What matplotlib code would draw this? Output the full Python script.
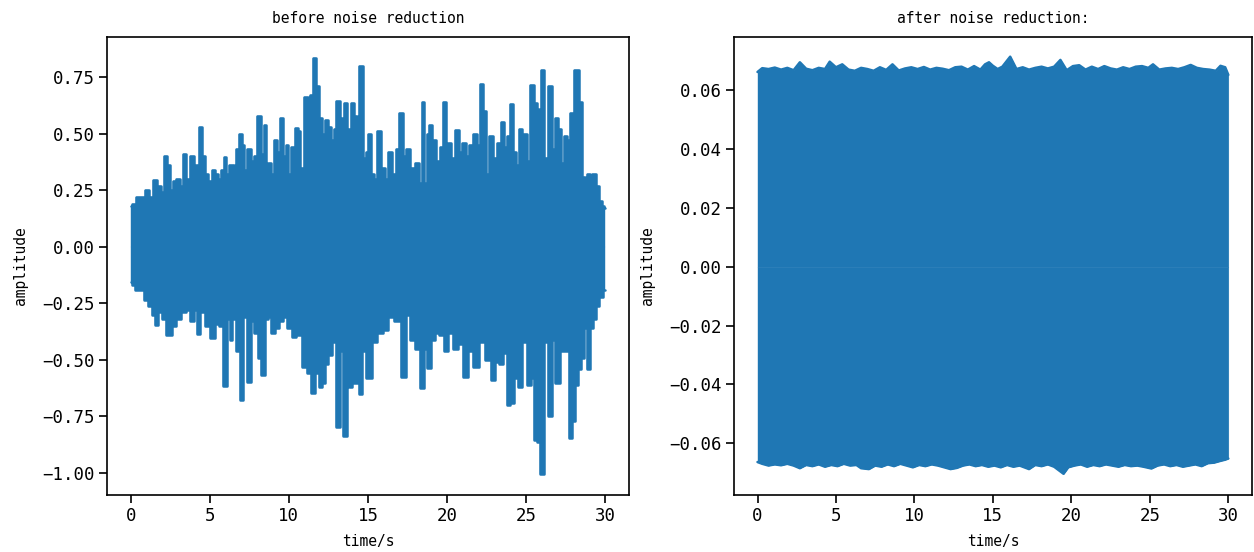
import numpy as np
import matplotlib
matplotlib.use("Agg")
import matplotlib.pyplot as plt

# ---------------- data ----------------
# before noise reduction: upper envelope spikes
before_up_t = [0.0, 0.2, 0.5, 0.8, 1.05, 1.3, 1.58, 1.8, 2.0, 2.2, 2.4, 2.55, 2.74, 2.98, 3.2, 3.43, 3.6,
               3.9, 4.05, 4.2, 4.42, 4.6, 4.8, 5.0, 5.22, 5.45, 5.65, 5.8, 5.94, 6.1, 6.3, 6.5, 6.6, 6.75,
               6.95, 7.1, 7.25, 7.47, 7.7, 7.85, 8.13, 8.3, 8.5, 8.6, 8.8, 8.95, 9.16, 9.33, 9.58, 9.7,
               9.9, 10.05, 10.25, 10.47, 10.65, 10.8, 11.1, 11.27, 11.4, 11.6, 11.8, 12.0, 12.15, 12.4,
               12.6, 12.75, 12.9, 13.1, 13.3, 13.4, 13.56, 13.73, 13.85, 14.0, 14.2, 14.35, 14.55, 14.8,
               14.9, 15.1, 15.3, 15.45, 15.7, 15.96, 16.2, 16.38, 16.64, 16.85, 17.1, 17.3, 17.5, 17.8,
               18.1, 18.3, 18.47, 18.6, 18.8, 18.9, 19.15, 19.47, 19.68, 19.86, 20.0, 20.17, 20.35,
               20.64, 20.85, 21.06, 21.27, 21.48, 21.8, 21.95, 22.15, 22.33, 22.54, 22.8, 23.0, 23.28,
               23.52, 23.7, 23.86, 24.07, 24.26, 24.43, 24.6, 24.9, 25.17, 25.37, 25.58, 25.75, 25.9,
               26.03, 26.2, 26.53, 26.74, 26.95, 27.1, 27.25, 27.5, 27.7, 27.9, 28.2, 28.46, 28.65,
               28.8, 28.95, 29.1, 29.27, 29.5, 29.66, 29.9, 30.0]
before_up_v = [0.18, 0.19, 0.22, 0.22, 0.25, 0.22, 0.295, 0.27, 0.24, 0.40, 0.36, 0.25, 0.29, 0.30, 0.27,
               0.41, 0.30, 0.40, 0.25, 0.36, 0.53, 0.40, 0.32, 0.29, 0.34, 0.32, 0.30, 0.34, 0.395, 0.32,
               0.36, 0.36, 0.34, 0.43, 0.50, 0.45, 0.34, 0.43, 0.38, 0.40, 0.58, 0.41, 0.54, 0.35, 0.37,
               0.32, 0.47, 0.42, 0.57, 0.40, 0.45, 0.32, 0.44, 0.525, 0.51, 0.35, 0.66, 0.62, 0.67, 0.835,
               0.71, 0.57, 0.50, 0.56, 0.53, 0.47, 0.52, 0.645, 0.53, 0.57, 0.635, 0.51, 0.52, 0.635,
               0.58, 0.50, 0.80, 0.39, 0.42, 0.50, 0.32, 0.30, 0.51, 0.35, 0.30, 0.42, 0.32, 0.43, 0.59,
               0.40, 0.43, 0.35, 0.37, 0.28, 0.64, 0.28, 0.50, 0.54, 0.47, 0.38, 0.44, 0.64, 0.31, 0.46,
               0.39, 0.515, 0.42, 0.46, 0.40, 0.45, 0.50, 0.45, 0.72, 0.60, 0.32, 0.49, 0.39, 0.46, 0.55,
               0.44, 0.49, 0.63, 0.42, 0.36, 0.52, 0.50, 0.38, 0.715, 0.635, 0.61, 0.515, 0.78, 0.39,
               0.71, 0.43, 0.57, 0.52, 0.37, 0.49, 0.47, 0.59, 0.78, 0.64, 0.31, 0.26, 0.32, 0.30, 0.32,
               0.27, 0.20, 0.18, 0.17]

# before noise reduction: lower envelope spikes
before_lo_t = [0.0, 0.2, 0.4, 0.7, 0.95, 1.26, 1.47, 1.64, 1.85, 2.1, 2.42, 2.74, 3.05, 3.37, 3.6, 3.9,
               4.1, 4.27, 4.5, 4.85, 5.22, 5.47, 5.7, 5.96, 6.2, 6.3, 6.5, 6.8, 7.05, 7.2, 7.5, 7.7, 7.9,
               8.15, 8.38, 8.6, 8.8, 9.0, 9.3, 9.5, 9.75, 10.0, 10.35, 10.6, 11.0, 11.26, 11.53, 11.8,
               12.0, 12.15, 12.4, 12.6, 12.85, 13.1, 13.3, 13.54, 13.75, 13.9, 14.1, 14.3, 14.53, 14.75,
               15.0, 15.2, 15.37, 15.75, 16.1, 16.4, 16.85, 17.27, 17.5, 17.8, 18.1, 18.45, 18.6, 18.85,
               19.1, 19.37, 19.65, 19.94, 20.2, 20.5, 20.85, 21.2, 21.47, 21.85, 22.2, 22.6, 22.93,
               23.15, 23.4, 23.65, 23.9, 24.1, 24.4, 24.6, 24.9, 25.23, 25.4, 25.58, 25.8, 26.0, 26.2,
               26.53, 26.7, 26.95, 27.3, 27.55, 27.84, 28.0, 28.2, 28.4, 28.55, 28.75, 28.95, 29.15,
               29.35, 29.5, 29.7, 30.0]
before_lo_v = [-0.157, -0.17, -0.19, -0.19, -0.235, -0.26, -0.30, -0.346, -0.29, -0.32, -0.39, -0.35,
               -0.32, -0.29, -0.28, -0.33, -0.28, -0.386, -0.29, -0.35, -0.405, -0.34, -0.35, -0.615,
               -0.32, -0.41, -0.32, -0.46, -0.677, -0.31, -0.596, -0.33, -0.38, -0.49, -0.567, -0.32,
               -0.31, -0.38, -0.36, -0.33, -0.31, -0.36, -0.40, -0.39, -0.53, -0.56, -0.648, -0.56,
               -0.62, -0.60, -0.52, -0.48, -0.42, -0.795, -0.46, -0.837, -0.53, -0.62, -0.60, -0.60,
               -0.65, -0.46, -0.58, -0.58, -0.42, -0.38, -0.37, -0.31, -0.33, -0.577, -0.30, -0.41,
               -0.45, -0.626, -0.45, -0.537, -0.41, -0.38, -0.39, -0.46, -0.38, -0.45, -0.43, -0.577,
               -0.46, -0.53, -0.42, -0.50, -0.59, -0.51, -0.52, -0.47, -0.70, -0.69, -0.58, -0.62,
               -0.42, -0.61, -0.58, -0.855, -0.865, -1.005, -0.42, -0.75, -0.41, -0.60, -0.46, -0.46,
               -0.847, -0.77, -0.61, -0.54, -0.49, -0.36, -0.54, -0.36, -0.32, -0.26, -0.22, -0.19]

# after noise reduction: upper envelope
after_up_t = [0.0, 0.3, 0.7, 1.1, 1.5, 1.9, 2.3, 2.7, 3.1, 3.5, 3.9, 4.3, 4.6, 5.0, 5.4, 5.8, 6.2, 6.6,
              7.0, 7.4, 7.8, 8.2, 8.6, 9.0, 9.4, 9.8, 10.2, 10.6, 11.0, 11.4, 11.8, 12.2, 12.6, 13.0,
              13.4, 13.8, 14.2, 14.5, 14.75, 15.0, 15.3, 15.6, 16.1, 16.5, 16.9, 17.3, 17.7, 18.1, 18.5,
              18.9, 19.3, 19.7, 20.1, 20.5, 20.9, 21.3, 21.7, 22.1, 22.5, 22.9, 23.3, 23.7, 24.1, 24.5,
              24.9, 25.2, 25.6, 26.0, 26.4, 26.8, 27.2, 27.6, 28.0, 28.4, 28.8, 29.2, 29.5, 29.8, 30.0]
after_up_v = [0.0662, 0.0675, 0.0672, 0.0677, 0.0670, 0.0676, 0.0668, 0.0695, 0.0673, 0.0668, 0.0676,
              0.0672, 0.0697, 0.0678, 0.0688, 0.0670, 0.0666, 0.0676, 0.0672, 0.0666, 0.0678, 0.0669,
              0.0688, 0.0667, 0.0674, 0.0678, 0.0672, 0.0679, 0.0670, 0.0676, 0.0673, 0.0668, 0.0678,
              0.0680, 0.0670, 0.0682, 0.0670, 0.0688, 0.0695, 0.0683, 0.0672, 0.0680, 0.0714, 0.0672,
              0.0678, 0.0670, 0.0676, 0.0680, 0.0674, 0.0680, 0.0703, 0.0668, 0.0682, 0.0685, 0.0670,
              0.0680, 0.0672, 0.0682, 0.0674, 0.0670, 0.0678, 0.0672, 0.0680, 0.0682, 0.0676, 0.0688,
              0.0670, 0.0674, 0.0676, 0.0672, 0.0678, 0.0686, 0.0676, 0.0672, 0.0670, 0.0666, 0.0683,
              0.0678, 0.0652]

# after noise reduction: lower envelope
after_lo_t = [0.0, 0.3, 0.7, 1.1, 1.5, 1.9, 2.3, 2.7, 3.1, 3.5, 3.9, 4.3, 4.7, 5.1, 5.5, 5.9, 6.3, 6.6,
              7.1, 7.5, 7.9, 8.3, 8.7, 9.1, 9.5, 9.9, 10.3, 10.7, 11.1, 11.5, 11.9, 12.3, 12.7, 13.1,
              13.5, 13.9, 14.3, 14.7, 15.1, 15.5, 15.9, 16.3, 16.7, 17.3, 17.7, 18.1, 18.5, 18.9, 19.5,
              19.8, 20.2, 20.6, 21.0, 21.4, 21.8, 22.2, 22.6, 23.0, 23.4, 23.8, 24.2, 24.6, 25.1, 25.5,
              25.9, 26.3, 26.7, 27.1, 27.5, 27.9, 28.3, 28.7, 29.1, 29.5, 29.8, 30.0]
after_lo_v = [-0.0664, -0.0670, -0.0676, -0.0672, -0.0675, -0.0670, -0.0676, -0.0685, -0.0674, -0.0678,
              -0.0672, -0.0680, -0.0674, -0.0678, -0.0670, -0.0676, -0.0674, -0.0685, -0.0688, -0.0676,
              -0.0680, -0.0672, -0.0678, -0.0670, -0.0676, -0.0682, -0.0674, -0.0678, -0.0672, -0.0676,
              -0.0682, -0.0688, -0.0684, -0.0676, -0.0672, -0.0678, -0.0674, -0.0680, -0.0676, -0.0682,
              -0.0674, -0.0680, -0.0676, -0.0688, -0.0674, -0.0678, -0.0672, -0.0680, -0.0704, -0.0682,
              -0.0676, -0.0672, -0.0680, -0.0674, -0.0678, -0.0672, -0.0676, -0.0680, -0.0674, -0.0678,
              -0.0676, -0.0680, -0.0686, -0.0676, -0.0672, -0.0678, -0.0674, -0.0680, -0.0676, -0.0672,
              -0.0678, -0.0668, -0.0666, -0.0660, -0.0656, -0.0652]

titles = ["before noise reduction", "after noise reduction:"]
xlabel = "time/s"
ylabel = "amplitude"

# ---------------- style ----------------
plt.rcParams['font.family'] = ['DejaVu Sans Mono', 'DejaVu Sans']
COLOR = "#1f77b4"

fig = plt.figure(figsize=(12.54, 5.52), dpi=100)
ax1 = fig.add_axes([0.0853, 0.1033, 0.4163, 0.8297])
ax2 = fig.add_axes([0.5853, 0.1033, 0.4130, 0.8297])


def draw_band(ax, ut, uv, lt, lv, step):
    kw = dict(step='mid') if step else {}
    ds = 'steps-mid' if step else 'default'
    ax.fill_between(ut, 0, uv, facecolor=COLOR, edgecolor=COLOR, linewidth=0.3, **kw)
    ax.fill_between(lt, lv, 0, facecolor=COLOR, edgecolor=COLOR, linewidth=0.3, **kw)
    ax.plot(ut, uv, color=COLOR, lw=1.8, drawstyle=ds, solid_joinstyle='round',
            solid_capstyle='round')
    ax.plot(lt, lv, color=COLOR, lw=1.8, drawstyle=ds, solid_joinstyle='round',
            solid_capstyle='round')


draw_band(ax1, before_up_t, before_up_v, before_lo_t, before_lo_v, True)
draw_band(ax2, after_up_t, after_up_v, after_lo_t, after_lo_v, False)

for ax, title in zip((ax1, ax2), titles):
    ax.set_title(title, fontsize=10.5, pad=10)
    ax.set_xlabel(xlabel, fontsize=10.5, labelpad=6)
    ax.set_ylabel(ylabel, fontsize=10.5, labelpad=10)
    ax.tick_params(labelsize=12.5, length=5.5, width=1.2)
    for s in ax.spines.values():
        s.set_linewidth(1.2)
    ax.set_xticks([0, 5, 10, 15, 20, 25, 30])
    ax.set_xlim(-1.5, 31.5)

ax1.set_yticks([-1.0, -0.75, -0.5, -0.25, 0.0, 0.25, 0.5, 0.75])
ax1.set_ylim(-1.097, 0.927)
ax2.set_yticks([-0.06, -0.04, -0.02, 0.0, 0.02, 0.04, 0.06])
ax2.set_ylim(-0.0776, 0.0781)

fig.savefig("out.png", dpi=100)
